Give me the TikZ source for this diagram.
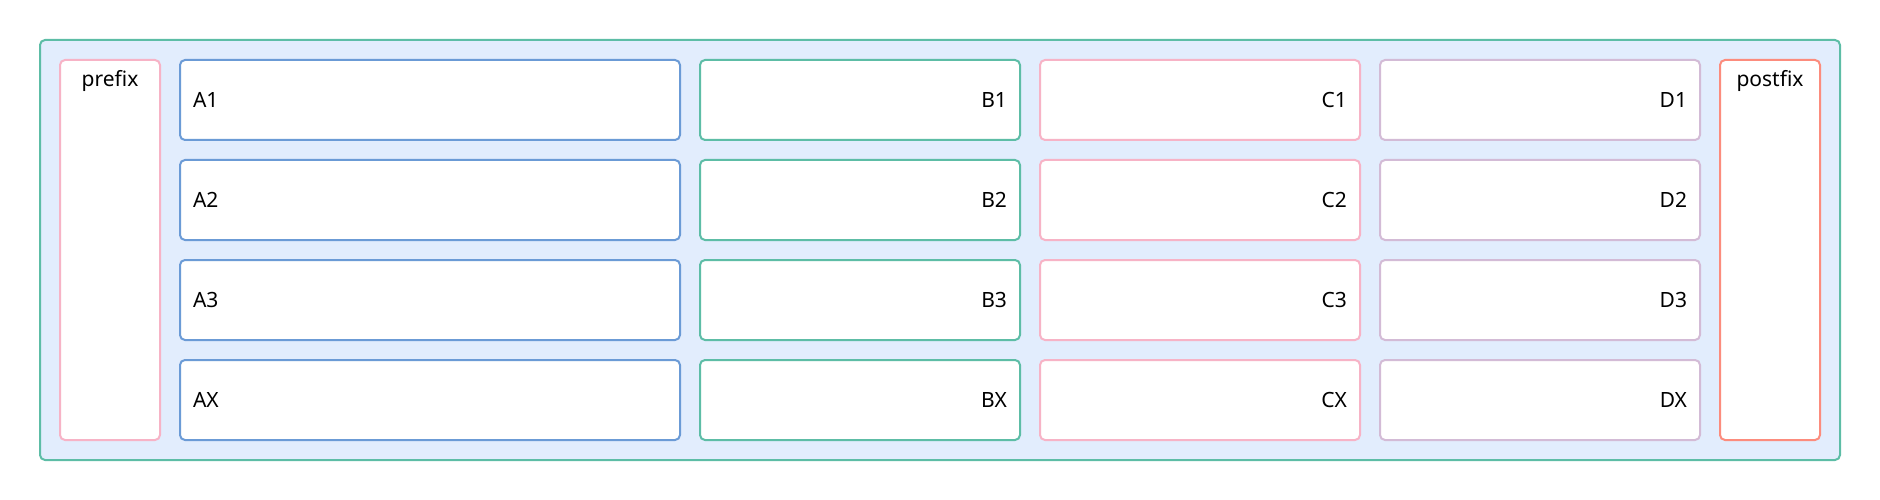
\documentclass[tikz,border=0pt]{standalone}
\usepackage{fontspec}
\setmainfont{Noto Sans}
\definecolor{frameFill}{HTML}{E2EDFD}
\definecolor{frameLine}{HTML}{5DBDA6}
\definecolor{aLine}{HTML}{6B9BD6}
\definecolor{bLine}{HTML}{5DBDA6}
\definecolor{cLine}{HTML}{F7B3C6}
\definecolor{dLine}{HTML}{D3BBD6}
\definecolor{postLine}{HTML}{FC8C7D}
\begin{document}
\begin{tikzpicture}[x=1pt, y=-1pt, line width=2pt, font=\fontsize{21}{25}\selectfont]
\tikzstyle{frame_style} = [draw=frameLine, fill=frameFill, rounded corners=5pt, minimum width=1800pt, minimum height=420pt]
\tikzstyle{side_style} = [draw, fill=white, rounded corners=5pt, minimum width=100pt, minimum height=380pt]
\tikzstyle{a_style} = [draw=aLine, fill=white, rounded corners=5pt, text width=474pt, inner sep=13pt, align=left, minimum height=80pt]
\tikzstyle{cell_style} = [draw, fill=white, rounded corners=5pt, text width=294pt, inner sep=13pt, align=right, minimum height=80pt]

\useasboundingbox (0,0) rectangle (1880,500);
\node[frame_style] (frame) at (940,250) {};

\node[side_style, draw=cLine, label={[below=7pt]north:prefix}] (prefix) at (110,250) {};
\node[side_style, draw=postLine, label={[below=7pt]north:postfix}] (postfix) at (1770,250) {};

\node[a_style] (a1) at (430,100) {A1};
\node[a_style] (a2) at (430,200) {A2};
\node[a_style] (a3) at (430,300) {A3};
\node[a_style] (ax) at (430,400) {AX};

\node[cell_style, draw=bLine] (b1) at (860,100) {B1};
\node[cell_style, draw=bLine] (b2) at (860,200) {B2};
\node[cell_style, draw=bLine] (b3) at (860,300) {B3};
\node[cell_style, draw=bLine] (bx) at (860,400) {BX};

\node[cell_style, draw=cLine] (c1) at (1200,100) {C1};
\node[cell_style, draw=cLine] (c2) at (1200,200) {C2};
\node[cell_style, draw=cLine] (c3) at (1200,300) {C3};
\node[cell_style, draw=cLine] (cx) at (1200,400) {CX};

\node[cell_style, draw=dLine] (d1) at (1540,100) {D1};
\node[cell_style, draw=dLine] (d2) at (1540,200) {D2};
\node[cell_style, draw=dLine] (d3) at (1540,300) {D3};
\node[cell_style, draw=dLine] (dx) at (1540,400) {DX};
\end{tikzpicture}
\end{document}
